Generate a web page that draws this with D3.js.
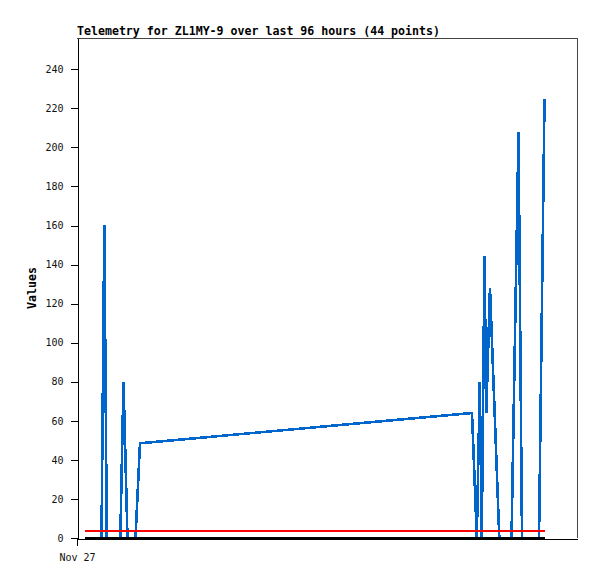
<!DOCTYPE html>
<html>
<head>
<meta charset="utf-8">
<script src="https://cdn.jsdelivr.net/npm/d3@7"></script>
<style>
  body { margin:0; background:#fff; }
  .title, .ylabel { font: bold 11.6px "DejaVu Sans Mono", monospace; fill:#000; }
  .axis text { font: normal 10px "DejaVu Sans Mono", monospace; fill:#111; }
  .axis { shape-rendering: crispEdges; }
  .series { fill:none; shape-rendering: crispEdges; stroke-linejoin: miter; }
</style>
</head>
<body>
<script>
// hours after Nov 27 00:00 for each of the 44 telemetry points
var hours = [1.66, 2.14, 2.62, 3.10, 3.58, 4.06, 4.53, 5.10, 5.68,
             6.20, 6.66, 7.11, 7.57, 8.03, 8.49, 9.01, 9.67,
             10.50, 11.02, 11.65, 12.17, 13.10, 82.16, 83.16, 83.78,
             84.19, 84.76, 85.13, 85.90, 87.84, 88.34, 88.84, 89.34,
             89.86, 90.38, 91.83, 92.56, 93.14, 93.72, 94.31, 94.89,
             95.47, 96.10, 97.24];
var valuesBlue = [0, 0, 0, 0, 0, 0, 0, 0, 160,
                  0, 0, 0, 0, 0, 0, 0, 80,
                  0, 0, 0, 0, 48.5, 64, 0, 80,
                  0, 144.5, 64, 128, 0, 0, 0, 0,
                  0, 0, 208, 0, 0, 0, 0, 0,
                  0, 0, 225];
var valuesRed = [3.7, 3.7, 3.7, 3.7, 3.7, 3.7, 3.7, 3.7, 3.7,
                 3.7, 3.7, 3.7, 3.7, 3.7, 3.7, 3.7, 3.7,
                 3.7, 3.7, 3.7, 3.7, 3.7, 3.7, 3.7, 3.7,
                 3.7, 3.7, 3.7, 3.7, 3.7, 3.7, 3.7, 3.7,
                 3.7, 3.7, 3.7, 3.7, 3.7, 3.7, 3.7, 3.7,
                 3.7, 3.7, 3.7];
var valuesBlack = [0, 0, 0, 0, 0, 0, 0, 0, 0,
                   0, 0, 0, 0, 0, 0, 0, 0,
                   0, 0, 0, 0, 0, 0, 0, 0,
                   0, 0, 0, 0, 0, 0, 0, 0,
                   0, 0, 0, 0, 0, 0, 0, 0,
                   0, 0, 0];
var yTicks = [0, 20, 40, 60, 80, 100, 120, 140, 160, 180, 200, 220, 240];
var titleText = "Telemetry for ZL1MY-9 over last 96 hours (44 points)";

var W = 597, H = 579,
    pLeft = 77, pRight = 577, pTop = 38, pBottom = 538;

var start = new Date(2023, 10, 27, 0, 0);
var toDate = function(h) { return new Date(start.getTime() + h * 3600e3); };

var svg = d3.select("body").append("svg")
    .attr("width", W)
    .attr("height", H);

var x = d3.scaleTime()
    .domain([start, toDate(104)])
    .range([pLeft, pRight]);
var y = d3.scaleLinear()
    .domain([0, 256])
    .range([pBottom, pTop]);

// frame top + right
svg.append("path")
    .attr("d", "M" + pLeft + "," + (pTop + 0.5) + "H" + (pRight + 0.5) + "V" + pBottom)
    .attr("fill", "none")
    .attr("stroke", "#444")
    .attr("shape-rendering", "crispEdges");

var line = d3.line()
    .x(function(d) { return x(toDate(d[0])); })
    .y(function(d) { return y(d[1]); });

var series = [
  { vals: valuesBlue, color: "#0066cc", width: 2.6 },
  { vals: valuesRed, color: "#ff0000", width: 2 },
  { vals: valuesBlack, color: "#000000", width: 2 }
];
series.forEach(function(s) {
  svg.append("path")
    .datum(hours.map(function(h, i) { return [h, s.vals[i]]; }))
    .attr("class", "series")
    .attr("stroke", s.color)
    .attr("stroke-width", s.width)
    .attr("d", line);
});

var yAxis = d3.axisLeft(y)
    .tickValues(yTicks)
    .tickSize(7)
    .tickSizeOuter(0)
    .tickPadding(7);
svg.append("g")
    .attr("class", "axis")
    .attr("transform", "translate(" + (pLeft + 0.5) + ",0)")
    .call(yAxis);

var xAxis = d3.axisBottom(x)
    .tickValues([start])
    .tickFormat(d3.timeFormat("%b %d"))
    .tickSize(7)
    .tickSizeOuter(0)
    .tickPadding(8);
svg.append("g")
    .attr("class", "axis")
    .attr("transform", "translate(0," + (pBottom + 0.5) + ")")
    .call(xAxis);

svg.selectAll(".axis path, .axis line").attr("stroke", "#000");

svg.append("text")
    .attr("class", "title")
    .attr("x", pLeft)
    .attr("y", 35)
    .text(titleText);

svg.append("text")
    .attr("class", "ylabel")
    .attr("transform", "translate(36," + ((pTop + pBottom) / 2) + ") rotate(-90)")
    .attr("text-anchor", "middle")
    .text("Values");
</script>
</body>
</html>
